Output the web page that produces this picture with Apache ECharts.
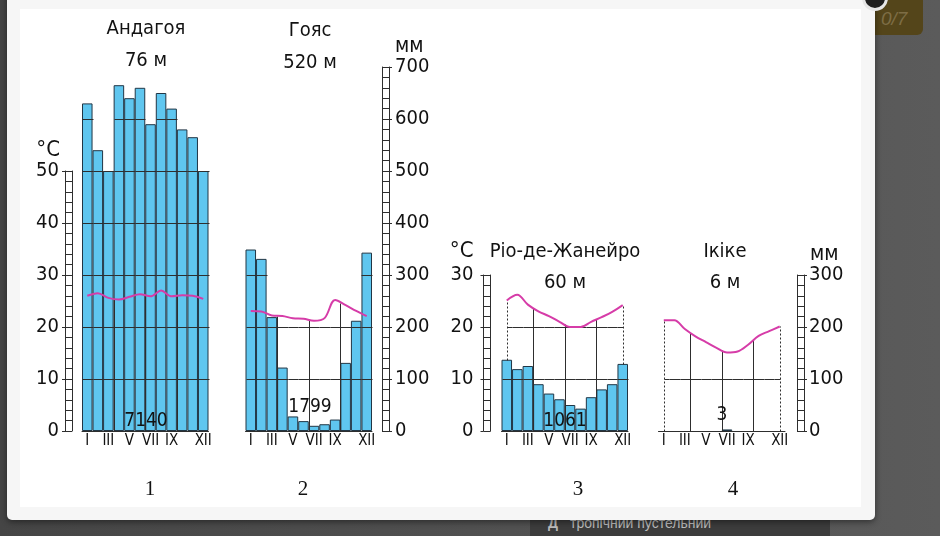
<!DOCTYPE html>
<html>
<head>
<meta charset="utf-8">
<title>Кліматограми</title>
<script src="https://cdn.jsdelivr.net/npm/echarts@6/dist/echarts.min.js"></script>
<style>
  html, body { margin: 0; padding: 0; }
  body {
    width: 940px; height: 536px; overflow: hidden; position: relative;
    background: linear-gradient(to right, #454545, #5b5b5b);
    font-family: 'Liberation Sans', Arial, sans-serif;
  }
  .hint {
    position: absolute; left: 530px; top: 500px; width: 300px; height: 36px;
    background: #3c3c3c; color: #bdbdbd; font-size: 14px;
  }
  .hint span { position: absolute; left: 18px; top: 15px; }
  .hint b { margin-right: 12px; }
  .badge {
    position: absolute; left: 866px; top: -8px; width: 57px; height: 43px;
    background: #54451a; border-radius: 6px;
  }
  .badge span {
    position: absolute; left: 15px; top: 16px; color: #7d6d45;
    font-style: italic; font-size: 19px;
  }
  .panel {
    position: absolute; left: 7px; top: -10px; width: 868px; height: 530px;
    background: #f6f6f6; border-radius: 0 0 5px 5px;
    box-shadow: 0 2px 6px rgba(0, 0, 0, 0.45);
  }
  .inner {
    position: absolute; left: 13px; top: 19px; width: 841px; height: 498px;
    background: #ffffff;
  }
  .close {
    position: absolute; left: 862px; top: -15px; width: 20px; height: 20px;
    border-radius: 50%; background: #1e1e1e; border: 3px solid #e6e6e6;
  }
  #chart { position: absolute; left: 0; top: 0; width: 940px; height: 536px; }
</style>
</head>
<body>
<div class="hint"><span><b>Д</b>тропічний пустельний</span></div>
<div class="badge"><span>0/7</span></div>
<div class="panel"><div class="inner"></div></div>
<div id="chart"></div>
<div class="close"></div>
<script>
// months on the x axis, only some of them get a label
const monthLabels = ['I', 'II', 'III', 'IV', 'V', 'VI', 'VII', 'VIII', 'IX', 'X', 'XI', 'XII'];
const shownMonthIdx = [0, 2, 4, 6, 8, 11];

const stationNames = ['Андагоя', 'Гояс', 'Ріо-де-Жанейро', 'Ікіке'];
const stationHeights = ['76 м', '520 м', '60 м', '6 м'];
const annualTotals = [7140, 1799, 1061, 3];
const diagramNumbers = ['1', '2', '3', '4'];

// precipitation, mm
const precipAndagoya = [630, 540, 500, 665, 640, 660, 590, 650, 620, 580, 565, 500];
const precipGoias = [349, 331, 219, 122, 28, 19, 10, 13, 22, 131, 212, 343];
const precipRio = [137, 119, 125, 90, 72, 61, 50, 43, 65, 80, 90, 129];
const precipIquique = [0, 0, 0, 0, 0, 0, 3, 0, 0, 0, 0, 0];

// temperature, °C
const tempAndagoya = [26.0, 26.5, 25.6, 25.3, 25.8, 26.3, 25.9, 27.0, 25.9, 26.1, 26.0, 25.4];
const tempGoias = [23.1, 23.0, 22.2, 22.1, 21.7, 21.6, 21.2, 21.7, 25.2, 24.2, 23.1, 22.1];
const tempRio = [25.1, 26.2, 24.3, 23.0, 22.1, 21.0, 20.0, 20.0, 21.0, 21.9, 22.9, 24.2];
const tempIquique = [21.3, 21.3, 19.6, 18.2, 17.1, 16.0, 15.1, 15.3, 16.6, 18.3, 19.2, 20.1];

// ruler scales (max of the printed labels)
const tempRulerMax = [50, 30];
const mmRulerMax = [700, 300];

const FONT = "'DejaVu Sans Condensed', 'Liberation Sans', Arial, sans-serif";
const SERIF = "'Liberation Serif', 'Times New Roman', serif";
const INK = '#121212';
const GRID_INK = '#2e2e2e';
const BAR = '#5fc6ef';
const BAR_EDGE = '#213645';
const TEMP = '#d63ca8';

const PLOT_W = 126.5;
const PLOT_BOTTOM = 105; // baseline at y = 431
const RULER_W = 7;

const plots = [
  { left: 82, top: 67, max: 700, precip: precipAndagoya, temp: tempAndagoya,
    titleX: 146, titleTop: 13, lh: 32, totalX: 146, totalY: 421, numX: 150 },
  { left: 245.5, top: 67, max: 700, precip: precipGoias, temp: tempGoias,
    titleX: 310, titleTop: 15, lh: 32, totalX: 310, totalY: 407, numX: 303 },
  { left: 501.5, top: 275, max: 300, precip: precipRio, temp: tempRio,
    titleX: 565, titleTop: 236, lh: 31, totalX: 565, totalY: 421, numX: 578 },
  { left: 658.5, top: 275, max: 300, precip: precipIquique, temp: tempIquique,
    titleX: 725, titleTop: 236, lh: 31, totalX: 722, totalY: 415, numX: 733 }
];

const rulers = [
  { left: 65, top: 171, max: tempRulerMax[0], step: 10, side: 'left', name: '°C',
    margin: 6, nameGap: 9, namePad: [0, 5, 0, 0], nameSize: 22 },
  { left: 382, top: 67, max: mmRulerMax[0], step: 100, side: 'right', name: 'мм',
    margin: 6, nameGap: 10, namePad: [0, 0, 0, 6], nameSize: 21 },
  { left: 483.5, top: 275, max: tempRulerMax[1], step: 10, side: 'left', name: '°C',
    margin: 10, nameGap: 13, namePad: [0, 10, 0, 0], nameSize: 22 },
  { left: 797, top: 275, max: mmRulerMax[1], step: 100, side: 'right', name: 'мм',
    margin: 5, nameGap: 8, namePad: [0, 0, 0, 6], nameSize: 21 }
];

// grid lines of a diagram: drawn inside the bars and under the temperature curve
function gridRenderer(precip, temp, max) {
  const minTemp = Math.min(...temp);
  const last = temp.length - 1;
  return function (params, api) {
    const i = params.dataIndex;
    const base = api.coord([i, 0]);
    const cx = base[0];
    const y0 = base[1];
    const half = api.size([1, 0])[0] / 2;
    const crisp = (v) => Math.round(v) + 0.5;
    const lines = [];
    const push = (x1, y1, x2, y2, dashed) => lines.push({
      type: 'line',
      shape: { x1: crisp(x1), y1: crisp(y1), x2: crisp(x2), y2: crisp(y2) },
      style: { stroke: GRID_INK, lineWidth: 1, lineDash: dashed ? [2, 2] : null }
    });
    for (let level = 100; level < max; level += 100) {
      const y = api.coord([i, level])[1];
      if (precip[i] >= level) {
        push(cx - half, y, cx + half, y);
      } else if (minTemp * 10 >= level - 5) {
        push(i === 0 ? cx : cx - half, y, i === last ? cx : cx + half, y);
      }
    }
    if (i === 2 || i === 5 || i === 8) {
      const top = api.coord([i, (temp[i] + temp[i + 1]) * 5])[1];
      push(cx + half, y0, cx + half, top);
    }
    if ((i === 0 || i === last) && temp[i] * 10 > precip[i]) {
      push(cx, api.coord([i, precip[i]])[1], cx, api.coord([i, temp[i] * 10])[1], true);
    }
    return { type: 'group', children: lines };
  };
}

const grid = [];
const xAxis = [];
const yAxis = [];
const series = [];
const title = [];
const graphic = [];

plots.forEach((p, k) => {
  grid.push({ left: p.left, top: p.top, width: PLOT_W, bottom: PLOT_BOTTOM, outerBoundsMode: 'none' });
  xAxis.push({
    type: 'category', gridIndex: k, data: monthLabels, boundaryGap: true,
    axisLine: { lineStyle: { color: GRID_INK, width: 1 } },
    axisTick: { show: false },
    axisLabel: {
      interval: (idx) => shownMonthIdx.includes(idx),
      margin: 3, fontSize: 15, fontFamily: FONT, color: INK
    }
  });
  const mmIdx = yAxis.length;
  yAxis.push({ type: 'value', gridIndex: k, min: 0, max: p.max, show: false });
  const tIdx = yAxis.length;
  yAxis.push({ type: 'value', gridIndex: k, min: 0, max: p.max / 10, show: false });

  series.push({
    type: 'bar', xAxisIndex: k, yAxisIndex: mmIdx, barCategoryGap: '0%', silent: true, z: 2,
    // empty months keep no outline, so only the axis line shows there
    data: p.precip.map((v) => (v > 0 ? v : { value: v, itemStyle: { borderWidth: 0 } })),
    itemStyle: { color: BAR, borderColor: BAR_EDGE, borderWidth: 1 }
  });
  series.push({
    type: 'custom', xAxisIndex: k, yAxisIndex: mmIdx, silent: true, z: 3, clip: false,
    encode: { x: 0, y: 1 },
    data: monthLabels.map((m, i) => [i, p.precip[i], p.temp[i]]),
    renderItem: gridRenderer(p.precip, p.temp, p.max)
  });
  series.push({
    type: 'line', xAxisIndex: k, yAxisIndex: tIdx, data: p.temp,
    smooth: 0.35, symbol: 'none', silent: true, z: 4, clip: false,
    lineStyle: { color: TEMP, width: 2 }
  });

  title.push({
    text: stationNames[k] + '\n' + stationHeights[k],
    left: p.titleX, top: p.titleTop, textAlign: 'center', padding: 0,
    textStyle: { fontSize: 20, fontWeight: 'normal', fontFamily: FONT, color: INK, lineHeight: p.lh }
  });
  graphic.push({
    type: 'text', x: p.totalX, y: p.totalY, z: 100,
    style: { text: String(annualTotals[k]), fontSize: 19, fontFamily: FONT, fill: INK,
             align: 'center', verticalAlign: 'middle' }
  });
  graphic.push({
    type: 'text', x: p.numX, y: 489, z: 100,
    style: { text: diagramNumbers[k], fontSize: 21, fontFamily: SERIF, fill: INK,
             align: 'center', verticalAlign: 'middle' }
  });
});

// ladder-like scales
rulers.forEach((r) => {
  const g = grid.length;
  grid.push({ left: r.left, top: r.top, width: RULER_W, bottom: PLOT_BOTTOM, outerBoundsMode: 'none' });
  xAxis.push({ type: 'value', gridIndex: g, show: false });
  const inner = r.side === 'left' ? 'right' : 'left';
  yAxis.push({
    type: 'value', gridIndex: g, position: r.side, min: 0, max: r.max, interval: r.step,
    axisLine: { show: true, onZero: false, lineStyle: { color: GRID_INK, width: 1 } },
    axisTick: { show: true, inside: false, length: 3, lineStyle: { color: GRID_INK } },
    minorTick: { show: false },
    splitLine: { show: false },
    axisLabel: { margin: r.margin, fontSize: 20, fontFamily: FONT, color: INK },
    name: r.name, nameLocation: 'end', nameGap: r.nameGap,
    nameTextStyle: {
      fontSize: r.nameSize, fontFamily: FONT, color: INK,
      align: r.side === 'left' ? 'right' : 'left', padding: r.namePad
    }
  });
  yAxis.push({
    type: 'value', gridIndex: g, position: inner, min: 0, max: r.max, interval: r.step,
    axisLine: { show: true, onZero: false, lineStyle: { color: GRID_INK, width: 1 } },
    axisTick: { show: true, inside: true, length: RULER_W, lineStyle: { color: GRID_INK } },
    minorTick: { show: true, splitNumber: 5, length: RULER_W, lineStyle: { color: GRID_INK } },
    splitLine: { show: false },
    axisLabel: { show: false }
  });
});

const myChart = echarts.init(document.getElementById('chart'));
myChart.setOption({
  animation: false,
  backgroundColor: 'transparent',
  title: title,
  grid: grid,
  xAxis: xAxis,
  yAxis: yAxis,
  series: series,
  graphic: graphic
});
</script>
</body>
</html>
